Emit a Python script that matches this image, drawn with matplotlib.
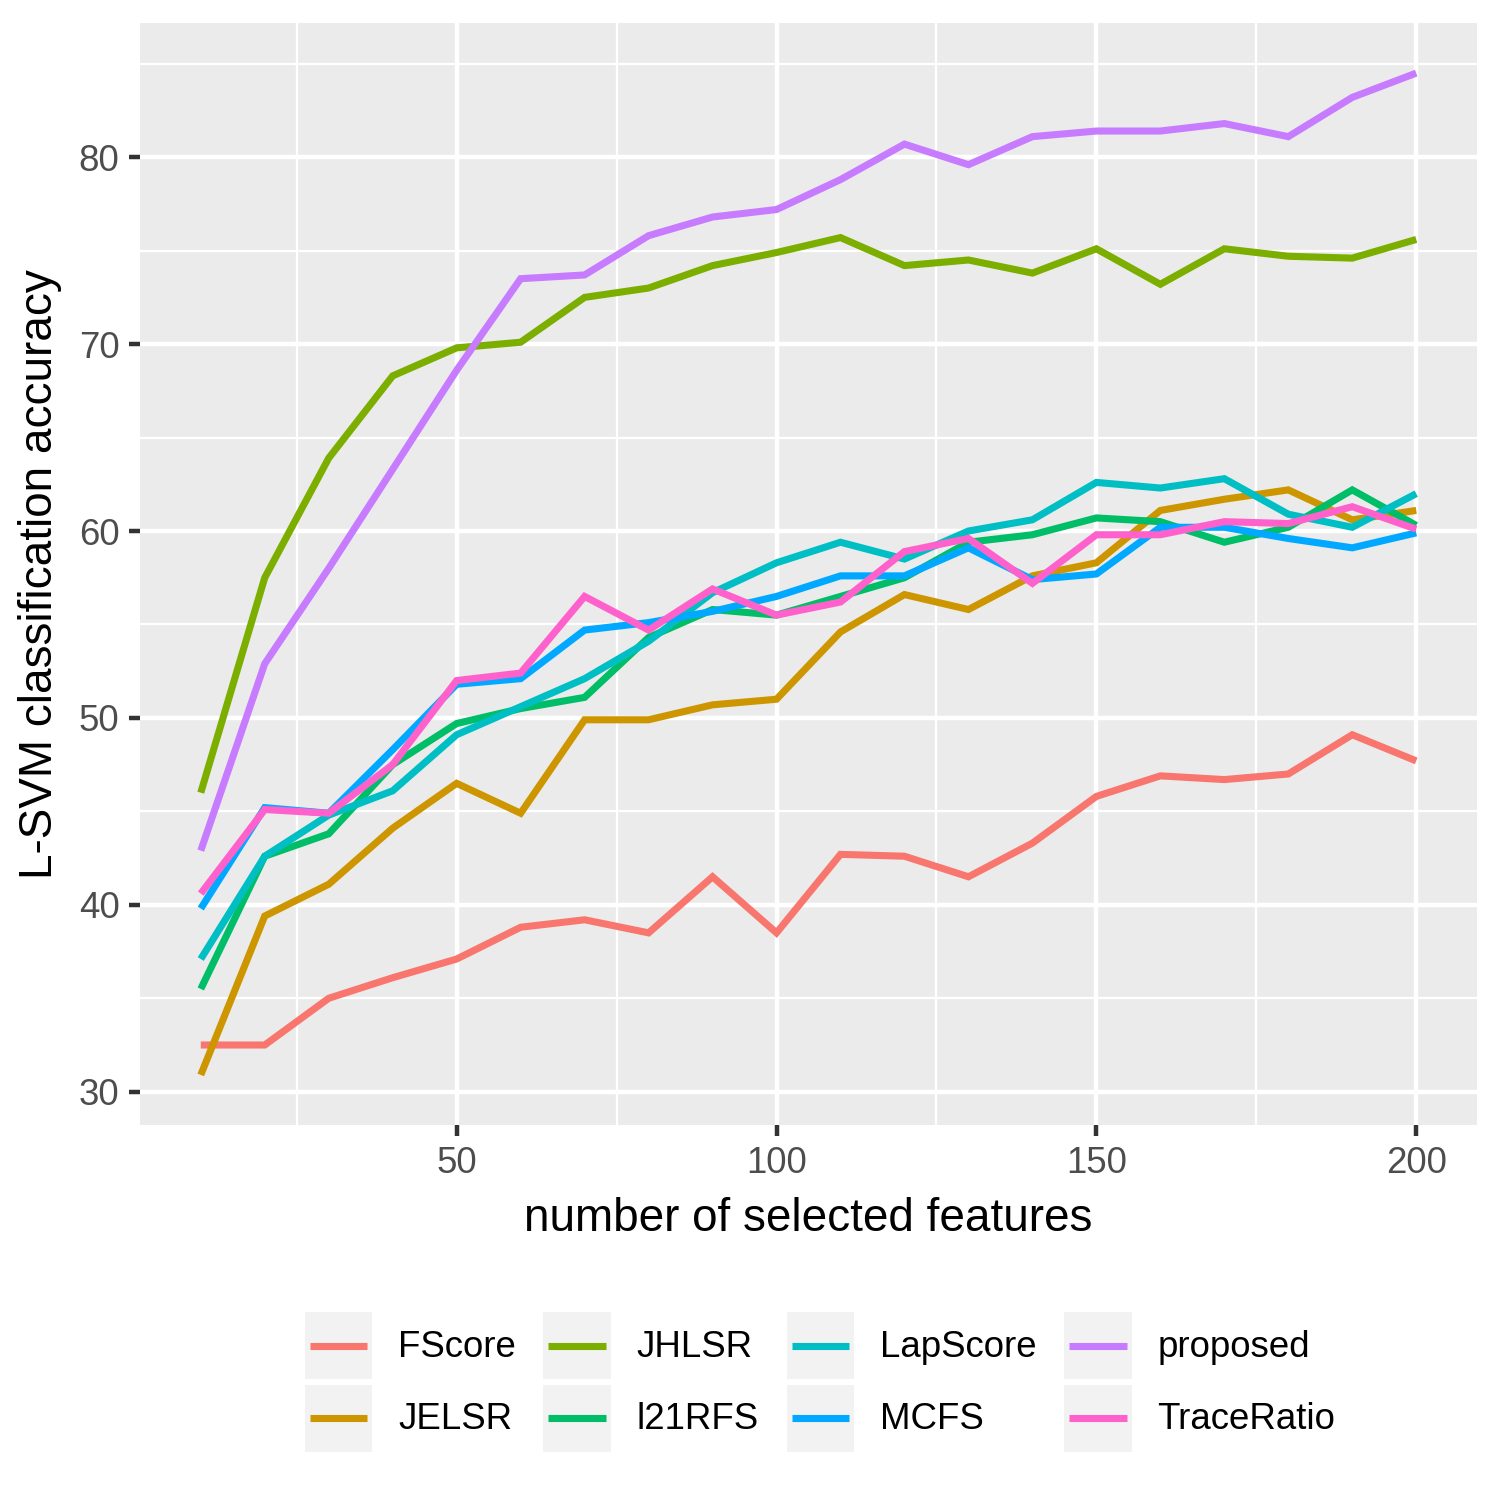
import matplotlib
matplotlib.use("Agg")
import matplotlib.pyplot as plt
from matplotlib.legend_handler import HandlerBase
from matplotlib.patches import Rectangle
from matplotlib.lines import Line2D

plt.rcParams['font.family'] = ['Liberation Sans', 'DejaVu Sans']

n_features = [10, 20, 30, 40, 50, 60, 70, 80, 90, 100,
              110, 120, 130, 140, 150, 160, 170, 180, 190, 200]

methods = ["FScore", "JELSR", "JHLSR", "l21RFS", "LapScore", "MCFS", "proposed", "TraceRatio"]
colors = ["#F8766D", "#CD9600", "#7CAE00", "#00BE67", "#00BFC4", "#00A9FF", "#C77CFF", "#FF61CC"]

fscore = [32.5, 32.5, 35.0, 36.1, 37.1, 38.8, 39.2, 38.5, 41.5, 38.5,
          42.7, 42.6, 41.5, 43.3, 45.8, 46.9, 46.7, 47.0, 49.1, 47.7]
jelsr = [30.9, 39.4, 41.1, 44.1, 46.5, 44.9, 49.9, 49.9, 50.7, 51.0,
         54.6, 56.6, 55.8, 57.6, 58.3, 61.1, 61.7, 62.2, 60.6, 61.1]
jhlsr = [46.0, 57.5, 63.9, 68.3, 69.8, 70.1, 72.5, 73.0, 74.2, 74.9,
         75.7, 74.2, 74.5, 73.8, 75.1, 73.2, 75.1, 74.7, 74.6, 75.6]
l21rfs = [35.5, 42.6, 43.8, 47.5, 49.7, 50.5, 51.1, 54.3, 55.8, 55.5,
          56.5, 57.5, 59.4, 59.8, 60.7, 60.5, 59.4, 60.2, 62.2, 60.3]
lapscore = [37.1, 42.6, 44.8, 46.1, 49.1, 50.6, 52.1, 54.1, 56.7, 58.3,
            59.4, 58.5, 60.0, 60.6, 62.6, 62.3, 62.8, 60.9, 60.2, 62.0]
mcfs = [39.8, 45.2, 44.9, 48.3, 51.8, 52.1, 54.7, 55.1, 55.7, 56.5,
        57.6, 57.6, 59.1, 57.4, 57.7, 60.2, 60.2, 59.6, 59.1, 59.9]
proposed = [42.9, 52.9, 58.0, 63.3, 68.6, 73.5, 73.7, 75.8, 76.8, 77.2,
            78.8, 80.7, 79.6, 81.1, 81.4, 81.4, 81.8, 81.1, 83.2, 84.5]
traceratio = [40.6, 45.1, 44.9, 47.5, 52.0, 52.4, 56.5, 54.7, 56.9, 55.5,
              56.2, 58.9, 59.6, 57.2, 59.8, 59.8, 60.5, 60.4, 61.3, 60.1]

series = [fscore, jelsr, jhlsr, l21rfs, lapscore, mcfs, proposed, traceratio]

x_ticks = [50, 100, 150, 200]
y_ticks = [30, 40, 50, 60, 70, 80]

fig = plt.figure(figsize=(5, 5), dpi=300)
ax = fig.add_axes([140/1500, 1 - 1125/1500, (1477-140)/1500, (1125-23)/1500])
ax.set_facecolor("#EBEBEB")
for s in ax.spines.values():
    s.set_visible(False)

handles = []
for name, vals, c in zip(methods, series, colors):
    h, = ax.plot(n_features, vals, color=c, lw=1.7, solid_capstyle='butt',
                 solid_joinstyle='miter', label=name, zorder=3)
    handles.append(h)

xmin, xmax = min(n_features), max(n_features)
allv = [v for s in series for v in s]
ymin, ymax = min(allv), max(allv)
xp = (xmax - xmin) * 0.05
yp = (ymax - ymin) * 0.05
ax.set_xlim(xmin - xp, xmax + xp)
ax.set_ylim(ymin - yp, ymax + yp)

ax.set_xticks(x_ticks)
ax.set_yticks(y_ticks)
ax.set_xticks([25, 75, 125, 175], minor=True)
ax.set_yticks([35, 45, 55, 65, 75, 85], minor=True)
ax.grid(which='major', color='white', lw=1.07, zorder=1)
ax.grid(which='minor', color='white', lw=0.53, zorder=1)
ax.set_axisbelow(True)
ax.tick_params(which='major', length=2.75, width=1.07, color='#333333',
               labelsize=8.8, labelcolor='#4D4D4D', pad=2.2)
ax.tick_params(which='minor', length=0)

ax.set_xlabel("number of selected features", fontsize=11, color='black', labelpad=4)
ax.set_ylabel("L-SVM classification accuracy", fontsize=11, color='black', labelpad=4)


class KeyHandler(HandlerBase):
    def create_artists(self, legend, orig_handle, xdescent, ydescent,
                       width, height, fontsize, trans):
        rect = Rectangle((-xdescent, -ydescent), width, height,
                         facecolor='#F2F2F2', edgecolor='none', transform=trans)
        inset = width * 0.075
        line = Line2D([-xdescent + inset, -xdescent + width - inset],
                      [-ydescent + height / 2] * 2,
                      color=orig_handle.get_color(), lw=1.7,
                      solid_capstyle='butt', transform=trans)
        return [rect, line]


leg = fig.legend(handles=handles, labels=methods, ncol=4,
                 loc='center', bbox_to_anchor=(820/1500, 1 - 1382/1500),
                 frameon=False, fontsize=8.8,
                 handler_map={Line2D: KeyHandler()},
                 handlelength=1.85, handleheight=2.43, handletextpad=0.7,
                 columnspacing=0.75, labelspacing=0.15, borderpad=0)

fig.savefig("out.png", dpi=300, facecolor='white')
